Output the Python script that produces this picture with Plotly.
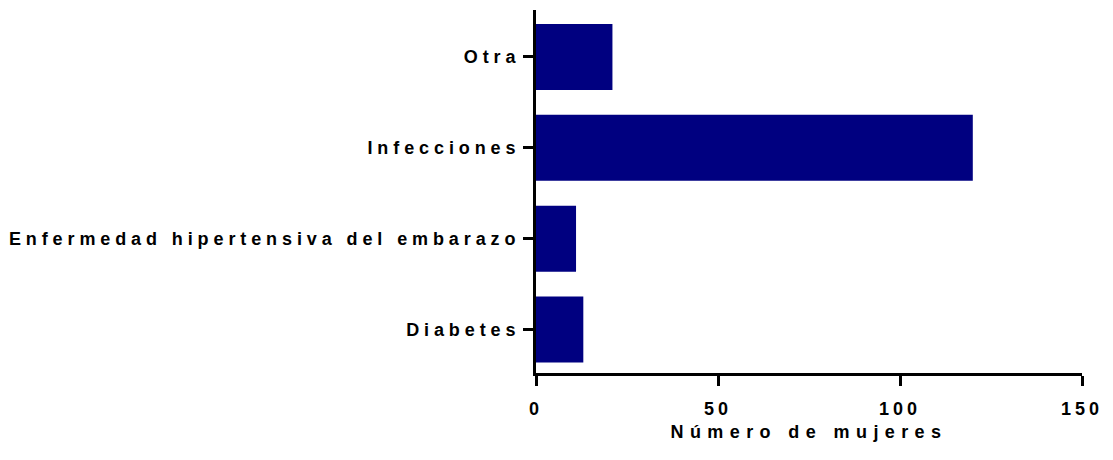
import plotly.graph_objects as go

# data
categorias = ['Diabetes', 'Enfermedad hipertensiva del embarazo', 'Infecciones', 'Otra']
mujeres = [13, 11, 120, 21]
x_ticks = [0, 50, 100, 150]

fuente = dict(family='Liberation Sans, Arial, Helvetica, sans-serif', size=18, color='black', weight='bold')

fig = go.Figure(go.Bar(
    y=categorias,
    x=mujeres,
    orientation='h',
    marker=dict(color='#000080', line=dict(width=0)),
    hoverinfo='skip',
))

fig.update_layout(
    width=1113,
    height=460,
    margin=dict(l=536, r=31, t=10, b=87),
    paper_bgcolor='white',
    plot_bgcolor='white',
    bargap=0.273,
    showlegend=False,
    font=fuente,
)

fig.update_xaxes(
    range=[0, 150],
    tickvals=x_ticks,
    ticks='outside', ticklen=10, tickwidth=3, tickcolor='black',
    showline=True, linewidth=3, linecolor='black',
    showgrid=False, zeroline=False, automargin=False,
    tickfont=fuente, ticklabelstandoff=7,
    title=dict(text='Número de mujeres', font=fuente, standoff=8),
)

fig.update_yaxes(
    type='category',
    categoryorder='array', categoryarray=categorias,
    range=[-0.479, 3.517],
    ticks='outside', ticklen=10, tickwidth=3, tickcolor='black',
    showline=True, linewidth=3, linecolor='black',
    showgrid=False, zeroline=False, automargin=False,
    tickfont=fuente, ticklabelstandoff=-1,
)

# Prism-style wide letter spacing on the texts, and no page margin
espaciado = """
document.body.style.margin = '0';
var gd = document.getElementById('{plot_id}');
gd.querySelectorAll('.ytick text').forEach(function(t){ t.style.letterSpacing = '4.9px'; });
gd.querySelectorAll('.xtick text').forEach(function(t){ t.style.letterSpacing = '4px'; });
gd.querySelectorAll('.xtitle').forEach(function(t){ t.style.letterSpacing = '6.4px'; });
"""

fig.write_html('out.html', post_script=espaciado, config={'displayModeBar': False})
